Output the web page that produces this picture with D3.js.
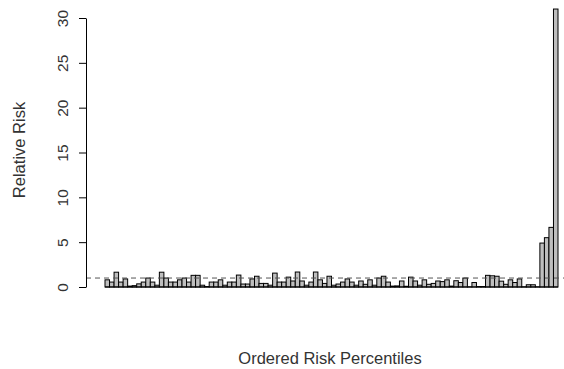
<!DOCTYPE html>
<html>
<head>
<meta charset="utf-8">
<script src="https://cdn.jsdelivr.net/npm/d3@7"></script>
<style>
  html, body { margin: 0; padding: 0; background: #fff; }
  svg { display: block; font-family: "Liberation Sans", Arial, sans-serif; }
</style>
</head>
<body>
<svg id="chart" width="564" height="369"></svg>
<script>
// Relative risk for each ordered risk percentile (1..100)
const percentiles = d3.range(1, 101);
const relativeRisk = [
  0.8, 0.55, 1.65, 0.55, 0.9, 0.1, 0.15, 0.35, 0.55, 1.0,
  0.55, 0.2, 1.65, 1.0, 0.55, 0.55, 0.8, 1.0, 0.55, 1.3,
  1.3, 0.2, 0.05, 0.55, 0.55, 0.8, 0.2, 0.55, 0.55, 1.33,
  0.33, 0.33, 0.9, 1.2, 0.4, 0.4, 0.2, 1.55, 0.55, 0.55,
  1.1, 0.67, 1.67, 0.67, 0.2, 0.55, 1.67, 0.8, 0.4, 1.2,
  0.2, 0.33, 0.55, 0.9, 0.55, 0.2, 0.67, 0.3, 0.8, 0.2,
  1.0, 1.2, 0.55, 0.1, 0.12, 0.67, 0.08, 1.1, 0.67, 0.2,
  0.8, 0.3, 0.4, 0.67, 0.6, 0.8, 0.1, 0.7, 0.5, 1.0,
  0.02, 0.5, 0.05, 0.05, 1.3, 1.25, 1.2, 0.65, 0.3, 0.8,
  0.5, 0.9, 0.02, 0.25, 0.25, 0.02, 4.9, 5.5, 6.65, 31.0
];
const yTicks = [0, 5, 10, 15, 20, 25, 30];
const referenceRisk = 1;

const svg = d3.select("#chart");

const x = d3.scaleBand()
  .domain(percentiles)
  .range([105, 558])
  .padding(0);

const y = d3.scaleLinear()
  .domain([0, 30])
  .range([287, 18]);

// bars
svg.append("g")
  .selectAll("rect")
  .data(relativeRisk)
  .join("rect")
  .attr("x", (d, i) => x(percentiles[i]))
  .attr("width", x.bandwidth())
  .attr("y", d => y(d))
  .attr("height", d => y(0) - y(d))
  .attr("fill", "#bebebe")
  .attr("stroke", "#000")
  .attr("stroke-width", 1);

// bottom edges of the bars (visible for near-zero bars)
svg.append("line")
  .attr("x1", x(percentiles[0]))
  .attr("x2", x(percentiles[percentiles.length - 1]) + x.bandwidth())
  .attr("y1", y(0))
  .attr("y2", y(0))
  .attr("stroke", "#000")
  .attr("stroke-width", 1);

// reference line at relative risk 1
svg.append("line")
  .attr("x1", 86)
  .attr("x2", 564)
  .attr("y1", y(referenceRisk))
  .attr("y2", y(referenceRisk))
  .attr("stroke", "#555")
  .attr("stroke-width", 1)
  .attr("stroke-dasharray", "5,4");

// y axis
const yAxis = svg.append("g")
  .attr("transform", "translate(86,0)")
  .call(d3.axisLeft(y).tickValues(yTicks).tickSize(7).tickSizeOuter(0).tickPadding(0));
yAxis.select(".domain").attr("stroke", "#000");
yAxis.selectAll(".tick line").attr("stroke", "#000");
yAxis.selectAll(".tick text")
  .attr("font-size", 15.5)
  .attr("fill", "#333")
  .attr("text-anchor", "middle")
  .attr("x", 0)
  .attr("dy", 0)
  .attr("transform", "translate(-18,0) rotate(-90)");

// axis titles
svg.append("text")
  .attr("transform", "translate(25,150) rotate(-90)")
  .attr("text-anchor", "middle")
  .attr("font-size", 16.5)
  .attr("fill", "#333")
  .text("Relative Risk");

svg.append("text")
  .attr("x", 330)
  .attr("y", 364)
  .attr("text-anchor", "middle")
  .attr("font-size", 16.5)
  .attr("fill", "#333")
  .text("Ordered Risk Percentiles");
</script>
</body>
</html>
